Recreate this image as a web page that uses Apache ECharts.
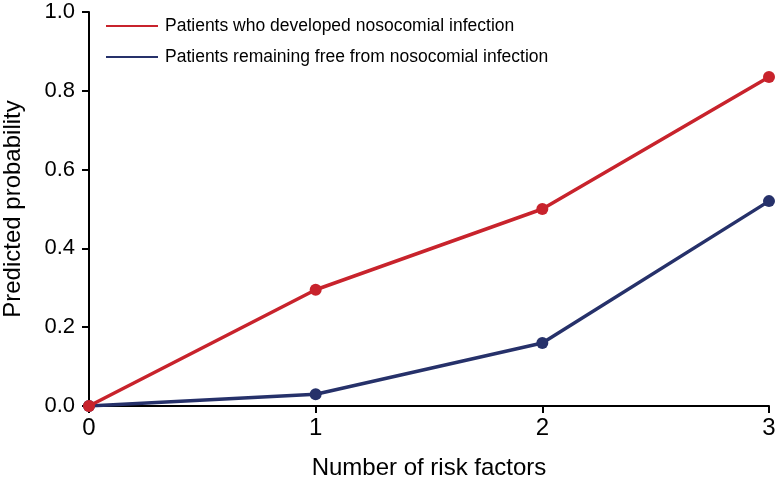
<!DOCTYPE html>
<html><head><meta charset="utf-8">
<script src="https://cdn.jsdelivr.net/npm/echarts@6/dist/echarts.min.js"></script>
<style>html,body{margin:0;padding:0;background:#fff}#c{width:776px;height:482px}</style>
</head><body><div id="c"></div>
<script>
const categories = [0, 1, 2, 3];
const infected = [0, 0.295, 0.5, 0.835];
const free = [0, 0.03, 0.16, 0.52];
const seriesNames = ['Patients who developed nosocomial infection', 'Patients remaining free from nosocomial infection'];
const yTicks = [0, 0.2, 0.4, 0.6, 0.8, 1.0];
const colors = ['#C8232C', '#26316A'];
const font = 'Liberation Sans, Arial, sans-serif';

const chart = echarts.init(document.getElementById('c'));
chart.setOption({
  animation: false,
  backgroundColor: '#fff',
  grid: {left: 89, top: 12, right: 7, bottom: 76, outerBoundsMode: 'none', containLabel: false},
  legend: {
    orient: 'vertical', left: 101, top: 12, itemGap: 13,
    icon: 'rect', itemWidth: 52, itemHeight: 2,
    textStyle: {fontFamily: font, fontSize: 17.5, color: '#000', padding: [0,0,0,2]},
    data: seriesNames
  },
  xAxis: {
    type: 'value', min: 0, max: 3, interval: 1,
    name: 'Number of risk factors', nameLocation: 'middle', nameGap: 50,
    nameTextStyle: {fontFamily: font, fontSize: 24, color: '#000'},
    axisLine: {show: true, lineStyle: {color: '#000', width: 2}},
    axisTick: {show: true, length: 7, lineStyle: {color: '#000', width: 2}},
    axisLabel: {fontFamily: font, fontSize: 24, color: '#000', margin: 10},
    splitLine: {show: false}
  },
  yAxis: {
    type: 'value', min: 0, max: 1, interval: 0.2,
    name: 'Predicted probability', nameLocation: 'middle', nameGap: 64,
    nameTextStyle: {fontFamily: font, fontSize: 24, color: '#000'},
    axisLine: {show: true, lineStyle: {color: '#000', width: 2}},
    axisTick: {show: true, length: 7, lineStyle: {color: '#000', width: 2}},
    axisLabel: {fontFamily: font, fontSize: 22, color: '#000', margin: 14,
      formatter: v => v.toFixed(1)},
    splitLine: {show: false}
  },
  series: [
    {name: seriesNames[0], type: 'line', data: categories.map((c,i)=>[c, infected[i]]),
     color: colors[0], lineStyle: {width: 3.5}, symbol: 'circle', symbolSize: 12, z: 3},
    {name: seriesNames[1], type: 'line', data: categories.map((c,i)=>[c, free[i]]),
     color: colors[1], lineStyle: {width: 3.5}, symbol: 'circle', symbolSize: 12, z: 2}
  ]
});
</script></body></html>
